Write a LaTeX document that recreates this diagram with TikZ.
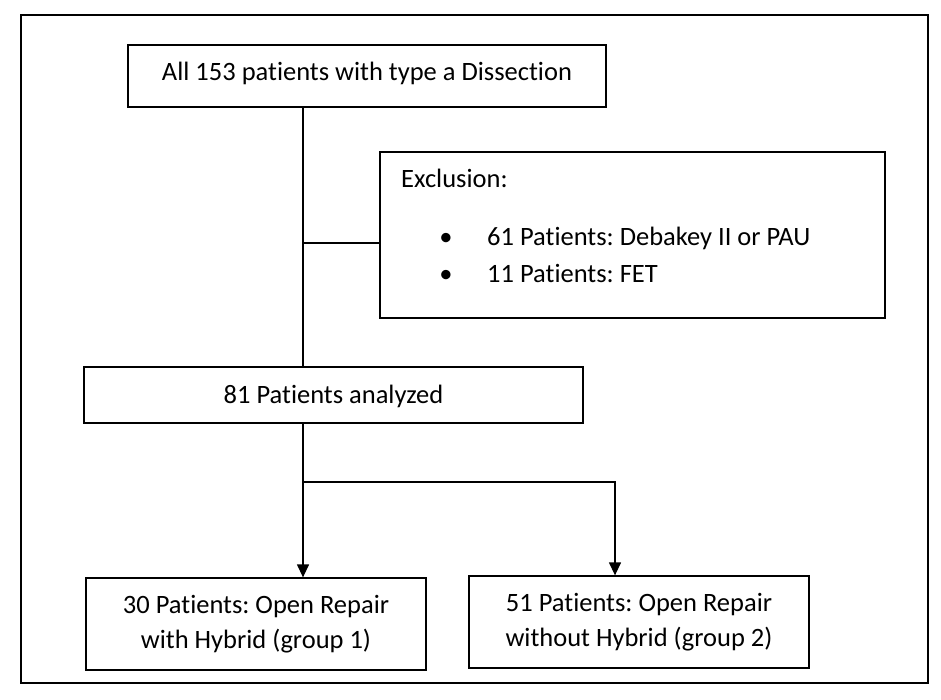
\documentclass[tikz,border=0pt]{standalone}
\usepackage{fontspec}
\setmainfont{Carlito}[Ligatures=NoCommon]
\usetikzlibrary{arrows.meta,calc}
\frenchspacing
\begin{document}
\begin{tikzpicture}[x=1pt,y=-1pt,
  every node/.style={font=\fontsize{26.5}{35}\selectfont\frenchspacing},
  box/.style={draw, line width=1.3pt, rectangle, inner sep=0pt},
  txt/.style={inner sep=0pt},
  conn/.style={line width=1.3pt},
  arr/.style={line width=1.3pt, -{Triangle[length=13pt,width=12pt]}}]
\useasboundingbox (0,0) rectangle (941,699);
\draw[line width=2.2pt] (21,15) rectangle (928,683);
\node[box, minimum width=478pt, minimum height=62pt, text height=18pt, text depth=10pt] (top) at (367,76) {All 153 patients with type a Dissection};
\node[box, minimum width=505pt, minimum height=166pt] (excl) at (632.5,235) {};
\node[txt, anchor=base west] (exh) at (401,187) {Exclusion:};
\node[txt, anchor=base] (b1) at (446,245) {\textbullet};
\node[txt, anchor=base west] (e1) at (487,245) {61 Patients: Debakey II or PAU};
\node[txt, anchor=base] (b2) at (446,282) {\textbullet};
\node[txt, anchor=base west] (e2) at (487,282) {11 Patients: FET};
\node[box, minimum width=499pt, minimum height=56pt, text height=18pt, text depth=2pt] (an) at (333.5,395) {81 Patients analyzed};
\node[box, minimum width=340pt, minimum height=92pt, align=center] (L) at (256,624) {30 Patients: Open Repair\\with Hybrid (group 1)};
\node[box, minimum width=340pt, minimum height=92pt, align=center] (R) at (639,622) {51 Patients: Open Repair\\without Hybrid (group 2)};
\coordinate (sp) at (303,0);
\coordinate (j1) at (303,243);
\coordinate (j2) at (303,482);
\coordinate (j3) at (615,482);
\draw[conn] (sp |- top.south) -- (sp |- an.north);
\draw[conn] (j1) -- (j1 -| excl.west);
\draw[arr] (sp |- an.south) -- (sp |- L.north);
\draw[arr] (j2) -- (j3) -- (j3 |- R.north);
\end{tikzpicture}
\end{document}
